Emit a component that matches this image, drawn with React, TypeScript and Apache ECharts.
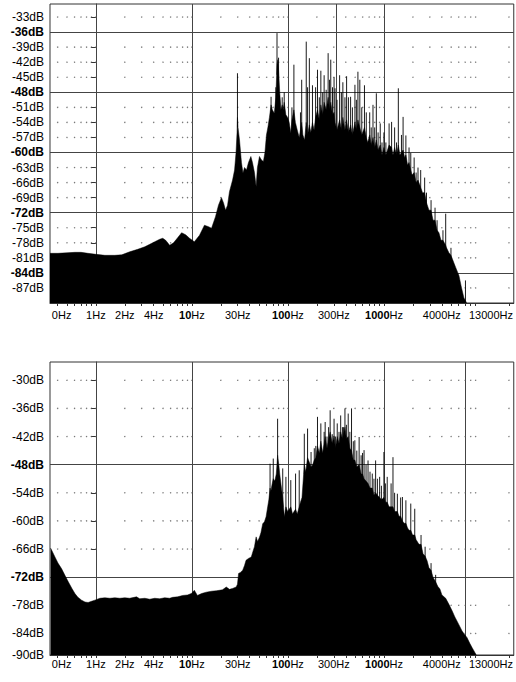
import React, { useEffect, useRef } from 'react';
import * as echarts from 'echarts';

// ---------- axis definitions ----------
const xLabelFreqs = [0.44, 1, 2, 4, 10, 30, 100, 300, 1000, 4000, 13000];
const xLabelTexts = ['0Hz', '1Hz', '2Hz', '4Hz', '{b|10}Hz', '30Hz', '{b|100}Hz', '300Hz', '{b|1000}Hz', '4000Hz', '13000Hz'];
const minorFreqs = [
  0.4, 0.5, 0.6, 0.7, 0.8, 0.9, 1, 2, 3, 4, 5, 6, 7, 8, 9, 10, 20, 30, 40, 50, 60, 70, 80, 90, 100,
  200, 300, 400, 500, 600, 700, 800, 900, 1000, 2000, 3000, 4000, 5000, 6000, 7000, 8000, 9000, 20000,
];

const topYLabels = [-33, -36, -39, -42, -45, -48, -51, -54, -57, -60, -63, -66, -69, -72, -75, -78, -81, -84, -87];
const topYTicks = [-33, -36, -39, -42, -45, -48, -51, -54, -57, -60, -63, -66, -69, -72, -75, -78, -81, -84, -87, -90];
const topMajorDb = [-36, -48, -60, -72, -84];
const topMajorFreqs = [1, 10, 100, 315, 1000];
const topYMin = -90;
const topYMax = -30.4;

const bottomYLabels = [-30, -36, -42, -48, -54, -60, -66, -72, -78, -84, -90];
const bottomMajorDb = [-48, -72];
const bottomMajorFreqs = [1, 10, 100, 1000, 7000];
const bottomYMin = -88.6;
const bottomYMax = -26.1;

// ---------- spectra: solid body [frequency Hz, level dB] ----------
const topBody = [
  [0.333, -80.1], [0.403, -80.1], [0.5, -80.0], [0.605, -79.9], [0.7, -79.9], [0.826, -80.1], [1.0, -80.3],
  [1.24, -80.5], [1.575, -80.5], [1.86, -80.4], [2.25, -79.8], [2.73, -79.3], [3.23, -78.8], [3.64, -78.3],
  [4.1, -77.8], [4.62, -77.3], [4.97, -77.1], [5.33, -77.5], [5.87, -78.5], [6.44, -78.0], [7.1, -77.0],
  [7.81, -76.0], [8.6, -76.4], [9.45, -77.1], [10.6, -77.8], [12.0, -76.5], [13.5, -74.5], [14.9, -74.8],
  [16.0, -75.1], [17.6, -72.8], [18.9, -70.5], [20.3, -69.0], [21.3, -70.0], [22.4, -71.5], [23.5, -70.5],
  [24.6, -67.8], [26.5, -65.5], [27.8, -63.5], [28.8, -60], [29.5, -56], [29.8, -53], [30.2, -55],
  [31.3, -57.5], [32.8, -62], [34.0, -64.1], [35.3, -63], [37.0, -63.5], [38.8, -62], [41.1, -60.8],
  [42.7, -62], [44.8, -64], [46.6, -66.8], [48.1, -63], [50.5, -60.8], [53.0, -61.5], [55.5, -61.8],
  [57.6, -60], [59.7, -56.5], [61.9, -54.9], [64.1, -53], [66.7, -50.5], [68.8, -51.5], [72.1, -52.2],
  [74.8, -49], [76.9, -42.5], [78.4, -41.5], [79.8, -43.5], [82.1, -48], [84.5, -51.5], [87.1, -50.5],
  [89.2, -51.5], [91.4, -50], [95.1, -52.5], [99.3, -53], [103, -54], [107, -56.1], [110, -53.5],
  [115.3, -51.5], [119.5, -54], [124.9, -55.5], [131, -57], [135, -55.5], [139, -54], [143, -56.5],
  [149, -57.5], [155, -54], [160, -56.5], [167, -54.5], [173, -56], [180, -54], [187, -55.5], [194, -53],
  [203, -51.5], [212, -53.5], [220, -50.5], [230, -52.5], [238, -50], [250, -51.5], [262, -49], [271, -51.5],
  [279, -50], [291, -52.5], [302, -52], [309, -54], [324, -55.5], [345, -53.5], [360, -55.5], [373, -53],
  [392, -55.5], [408, -53.5], [426, -56], [449, -54.5], [469, -56.5], [498, -54], [516, -55.5], [535, -53.5],
  [560, -55], [587, -56.5], [626, -55], [654, -57], [677, -58], [710, -56.5], [736, -58.5], [768, -57],
  [800, -59], [832, -57.5], [868, -59.5], [914, -58.5], [953, -60.5], [998, -59], [1046, -60.5], [1130, -58.5],
  [1200, -59], [1240, -60.5], [1290, -59], [1350, -60.5], [1410, -58.5], [1465, -60.5], [1520, -60],
  [1580, -59.5], [1640, -61], [1690, -60.5], [1760, -62.5], [1823, -62], [1900, -63.5], [1960, -64.5],
  [2060, -64], [2160, -66], [2260, -65.5], [2410, -67], [2520, -68], [2650, -68], [2770, -70],
  [2940, -71.5], [3090, -71.5], [3240, -73.5], [3400, -73.5], [3570, -75.5], [3734, -76], [3920, -77.5],
  [4110, -77.5], [4390, -78.5], [4480, -79], [4743, -80], [4980, -80.5], [5340, -82], [5600, -83],
  [6025, -84.5], [6420, -87], [6800, -89], [7050, -89.5], [7230, -90], [7300, -100],
];

// ---------- spectra: narrow peaks [frequency Hz, level dB] ----------
const topPeaks = [
  [29.8, -44.2], [66.7, -48.9], [74.8, -47], [76.9, -36.2], [79.8, -41.1], [87.1, -49], [91.4, -48],
  [110, -51], [115.3, -42.5], [135, -52], [139, -45.5], [155, -37.9], [160, -47], [167, -41.2],
  [180, -46.6], [194, -47], [203, -43.5], [212, -49], [220, -43.7], [230, -48], [238, -44.6], [250, -47.5],
  [262, -40.2], [271, -45.5], [279, -41.5], [291, -47], [302, -45], [309, -47.2], [324, -49.5],
  [345, -44.6], [360, -48], [373, -46], [392, -49], [408, -44.8], [426, -49], [449, -48.9], [469, -51],
  [498, -46.5], [516, -49.5], [535, -43.9], [560, -45.5], [587, -51], [626, -46.6], [654, -52],
  [710, -52], [736, -55], [768, -50.5], [800, -55], [832, -48.2], [868, -56], [914, -54.2], [953, -58],
  [998, -56], [1046, -58], [1130, -54.2], [1200, -53.9], [1290, -55], [1350, -58], [1410, -47.2],
  [1520, -56.5], [1580, -52.9], [1690, -56.6], [1823, -59], [1900, -60.1], [2060, -61], [2160, -64],
  [2260, -63], [2410, -63.5], [2650, -65], [2770, -68], [3090, -69.5], [3400, -71], [3570, -73.5],
  [4110, -75.5], [4390, -72.2], [4980, -79], [7050, -85.5],
];

const bottomBody = [
  [0.338, -65.8], [0.375, -67.7], [0.403, -69.0], [0.44, -70.2], [0.476, -71.6], [0.516, -73], [0.563, -74.4],
  [0.605, -75.5], [0.65, -76.3], [0.71, -76.9], [0.77, -77.3], [0.83, -77.4], [0.887, -77.2], [0.976, -76.9],
  [1.1, -76.5], [1.24, -76.4], [1.4, -76.5], [1.575, -76.4], [1.775, -76.5], [2.0, -76.4], [2.25, -76.5],
  [2.65, -76.2], [2.86, -76.6], [3.23, -76.5], [3.64, -76.7], [4.1, -76.5], [4.62, -76.6], [5.2, -76.4],
  [5.87, -76.5], [6.3, -76.3], [7.1, -76.2], [8.0, -75.9], [9.0, -75.8], [9.85, -75.5], [10.6, -74.8],
  [11.4, -75.9], [12.6, -75.5], [14.1, -75.2], [16.0, -75.0], [18.0, -74.9], [19.3, -74.8], [20.8, -74.7],
  [22.8, -74.1], [24.6, -74.6], [26.5, -74.4], [28.9, -74.1], [29.8, -73.5], [30.6, -71.2], [32.0, -71.0],
  [33.8, -70.5], [35.3, -69.5], [36.6, -68.4], [38.8, -68.0], [41.5, -67.7], [43.2, -66.5], [44.8, -65.5],
  [46.6, -63.4], [48.3, -64.4], [50.5, -63.5], [52.3, -62.5], [54.6, -60.6], [56.9, -60.2], [59.2, -59.1],
  [61.5, -57], [63.2, -55.5], [65.1, -53], [66.3, -53.8], [67.9, -52.5], [70.3, -51], [72.9, -51.5],
  [75.6, -50], [78.0, -46], [80.3, -48], [82.1, -50], [85.6, -53], [88.2, -55], [91.8, -59.1],
  [95.2, -57], [99.4, -58], [103, -57.5], [107, -57], [111.6, -58.5], [115.6, -58], [120, -57.5],
  [125, -58.5], [131, -57], [135, -56], [140, -55], [148, -48], [153, -49.5], [160, -46.5], [167, -47.5],
  [174, -48.5], [181, -48], [188, -47], [195, -46.5], [203, -44], [212, -45.5], [220, -43], [230, -45.5],
  [238, -43.5], [244, -42], [255, -44.5], [265, -42.5], [275, -41], [289, -43.5], [302, -42], [312, -44.5],
  [326, -42], [340, -43.5], [354, -41], [369, -42.5], [378, -41.5], [392, -40], [406, -42.5], [424, -42],
  [441, -44.5], [459, -45], [479, -47], [497, -47], [521, -48.5], [551, -48], [578, -50], [598, -50],
  [620, -51], [650, -51.5], [682, -52], [715, -53], [755, -53], [786, -54.5], [818, -54], [854, -54.5],
  [901, -55], [940, -55.5], [998, -55], [1034, -56], [1080, -56], [1130, -57], [1185, -57], [1240, -57],
  [1290, -58], [1378, -58], [1435, -59], [1490, -59], [1555, -60], [1620, -60.5], [1690, -60.5],
  [1760, -61.5], [1823, -62], [1900, -62], [1985, -63], [2090, -63], [2160, -64], [2314, -65], [2430, -65],
  [2550, -67], [2680, -67.5], [2810, -68.5], [2940, -70], [3090, -70.5], [3240, -72], [3450, -73],
  [3640, -74], [3820, -74.5], [4010, -75.8], [4390, -76.5], [4743, -77.8], [5130, -79.2], [5470, -80.5],
  [5770, -81.4], [6150, -82.5], [6500, -83.5], [6940, -84.3], [7330, -84.9], [7820, -86.1], [8250, -87],
  [8800, -88], [9080, -88.5], [9230, -100],
];

const bottomPeaks = [
  [65.1, -47.8], [70.3, -46.7], [78.0, -38.2], [88.2, -48.8], [95.2, -50.6], [107, -51.3], [120, -49.9],
  [131, -49.2], [148, -41.4], [160, -40.3], [174, -45.3], [188, -44.5], [195, -44], [203, -37.8],
  [220, -39.2], [238, -41], [244, -38.9], [255, -42], [265, -40], [275, -36.4], [289, -41.5], [302, -38.2],
  [312, -42], [326, -39.2], [340, -41], [354, -37.5], [369, -40], [378, -40], [392, -36], [406, -39.5],
  [424, -37.1], [441, -41], [459, -36], [479, -43], [497, -42.8], [521, -45], [551, -42.1], [578, -46],
  [598, -45.5], [620, -44.9], [650, -48], [682, -47.1], [715, -49.5], [755, -49.9], [786, -51],
  [818, -47.1], [854, -51], [901, -50.6], [940, -52.5], [998, -45.3], [1034, -52], [1080, -50.6],
  [1185, -52], [1240, -46.4], [1290, -54], [1378, -54.2], [1490, -55], [1555, -54.9], [1690, -55.6],
  [1900, -56.3], [2090, -57.4], [2430, -63], [2680, -65.5], [3090, -69], [3450, -71.5],
];

const X_MIN = -0.4777;
const X_MAX = 4.351;
const FONT = 'Liberation Sans, Arial, sans-serif';
const lg = (f: number) => Math.log10(f);

function xAxisOpt(gridIndex: number, labelMargin: number) {
  return {
    type: 'value',
    gridIndex,
    min: X_MIN,
    max: X_MAX,
    axisLine: { show: true, onZero: false, lineStyle: { color: '#333', width: 1 } },
    splitLine: { show: false },
    axisTick: { show: true, customValues: minorFreqs.map(lg), length: 3, lineStyle: { color: '#333' } },
    axisLabel: {
      customValues: xLabelFreqs.map(lg),
      formatter: (v: number) => {
        let best = 0;
        xLabelFreqs.forEach((f, i) => {
          if (Math.abs(lg(f) - v) < Math.abs(lg(xLabelFreqs[best]) - v)) best = i;
        });
        return xLabelTexts[best];
      },
      margin: labelMargin,
      color: '#000',
      fontFamily: FONT,
      fontSize: 11,
      rich: { b: { fontWeight: 'bold', color: '#000', fontFamily: FONT, fontSize: 11 } },
    },
  };
}

function yAxisOpt(gridIndex: number, min: number, max: number, labels: number[], ticks: number[], majors: number[], step: number) {
  return {
    type: 'value',
    gridIndex,
    min,
    max,
    axisLine: { show: true, lineStyle: { color: '#333', width: 1 } },
    splitLine: { show: false },
    axisTick: { show: true, customValues: ticks, length: 5, lineStyle: { color: '#333' } },
    axisLabel: {
      customValues: labels,
      formatter: (v: number) => {
        const r = Math.round(v / step) * step;
        return majors.indexOf(r) >= 0 ? `{b|${r}dB}` : `${r}dB`;
      },
      margin: 6,
      color: '#000',
      fontFamily: FONT,
      fontSize: 12,
      rich: { b: { fontWeight: 'bold', color: '#000', fontFamily: FONT, fontSize: 12 } },
    },
  };
}

function dotData(rows: number[], majors: number[]) {
  const out: number[][] = [];
  rows.filter((r) => majors.indexOf(r) < 0).forEach((r) => {
    minorFreqs.forEach((f) => out.push([lg(f), r]));
  });
  return out;
}

function gridSeries(idx: number, rows: number[], majorsDb: number[], majorsFreq: number[]) {
  return {
    type: 'scatter',
    xAxisIndex: idx,
    yAxisIndex: idx,
    silent: true,
    z: 1,
    symbolSize: 1.4,
    itemStyle: { color: '#555' },
    data: dotData(rows, majorsDb),
    markLine: {
      silent: true,
      z: 1,
      symbol: ['none', 'none'],
      label: { show: false },
      lineStyle: { color: '#444', width: 1, type: 'solid' },
      emphasis: { disabled: true },
      data: [
        ...majorsDb.map((d) => ({ yAxis: d })),
        ...majorsFreq.map((f) => ({ xAxis: lg(f) })),
      ],
    },
  };
}

function bodySeries(idx: number, data: number[][]) {
  return {
    type: 'line',
    xAxisIndex: idx,
    yAxisIndex: idx,
    silent: true,
    z: 3,
    showSymbol: false,
    symbol: 'none',
    clip: true,
    lineStyle: { color: '#000', width: 0.5 },
    areaStyle: { color: '#000', opacity: 1, origin: 'start' },
    data: data.map(([f, d]) => [lg(f), d]),
  };
}

function peakSeries(idx: number, data: number[][], body: number[][]) {
  // each peak rises from the body level read at the same frequency
  return {
    type: 'custom',
    xAxisIndex: idx,
    yAxisIndex: idx,
    silent: true,
    z: 4,
    clip: true,
    encode: { x: 0, y: 1 },
    data: data.map(([f, d]) => {
      const b = body.find((p) => p[0] >= f);
      return [lg(f), d, (b ? b[1] : d) - 2];
    }),
    renderItem: (params: any, api: any) => {
      const top = api.coord([api.value(0), api.value(1)]);
      const base = api.coord([api.value(0), api.value(2)]);
      return {
        type: 'line',
        shape: { x1: top[0], y1: top[1], x2: base[0], y2: base[1] },
        style: { stroke: '#000', lineWidth: 0.9 },
      };
    },
  };
}

export default function App() {
  const ref = useRef<HTMLDivElement>(null);
  useEffect(() => {
    document.body.style.margin = '0';
    if (!ref.current) return;
    const chart = echarts.init(ref.current, undefined, { renderer: 'svg' });
    chart.setOption({
      animation: false,
      backgroundColor: '#fff',
      grid: [
        { left: 50, top: 4, width: 465, height: 299, show: true, borderColor: '#333', borderWidth: 1, backgroundColor: 'transparent' },
        { left: 50, top: 362, width: 465, height: 293, show: true, borderColor: '#333', borderWidth: 1, backgroundColor: 'transparent' },
      ],
      xAxis: [xAxisOpt(0, 6), xAxisOpt(1, 3)],
      yAxis: [
        yAxisOpt(0, topYMin, topYMax, topYLabels, topYTicks, topMajorDb, 3),
        yAxisOpt(1, bottomYMin, bottomYMax, bottomYLabels.map((v) => Math.max(v, bottomYMin)), bottomYLabels.map((v) => Math.max(v, bottomYMin)), bottomMajorDb, 6),
      ],
      series: [
        gridSeries(0, topYLabels, topMajorDb, topMajorFreqs),
        gridSeries(1, bottomYLabels, bottomMajorDb, bottomMajorFreqs),
        bodySeries(0, topBody),
        bodySeries(1, bottomBody),
        peakSeries(0, topPeaks, topBody),
        peakSeries(1, bottomPeaks, bottomBody),
      ],
    });
    return () => chart.dispose();
  }, []);
  return <div ref={ref} style={{ width: 516, height: 682 }} />;
}
